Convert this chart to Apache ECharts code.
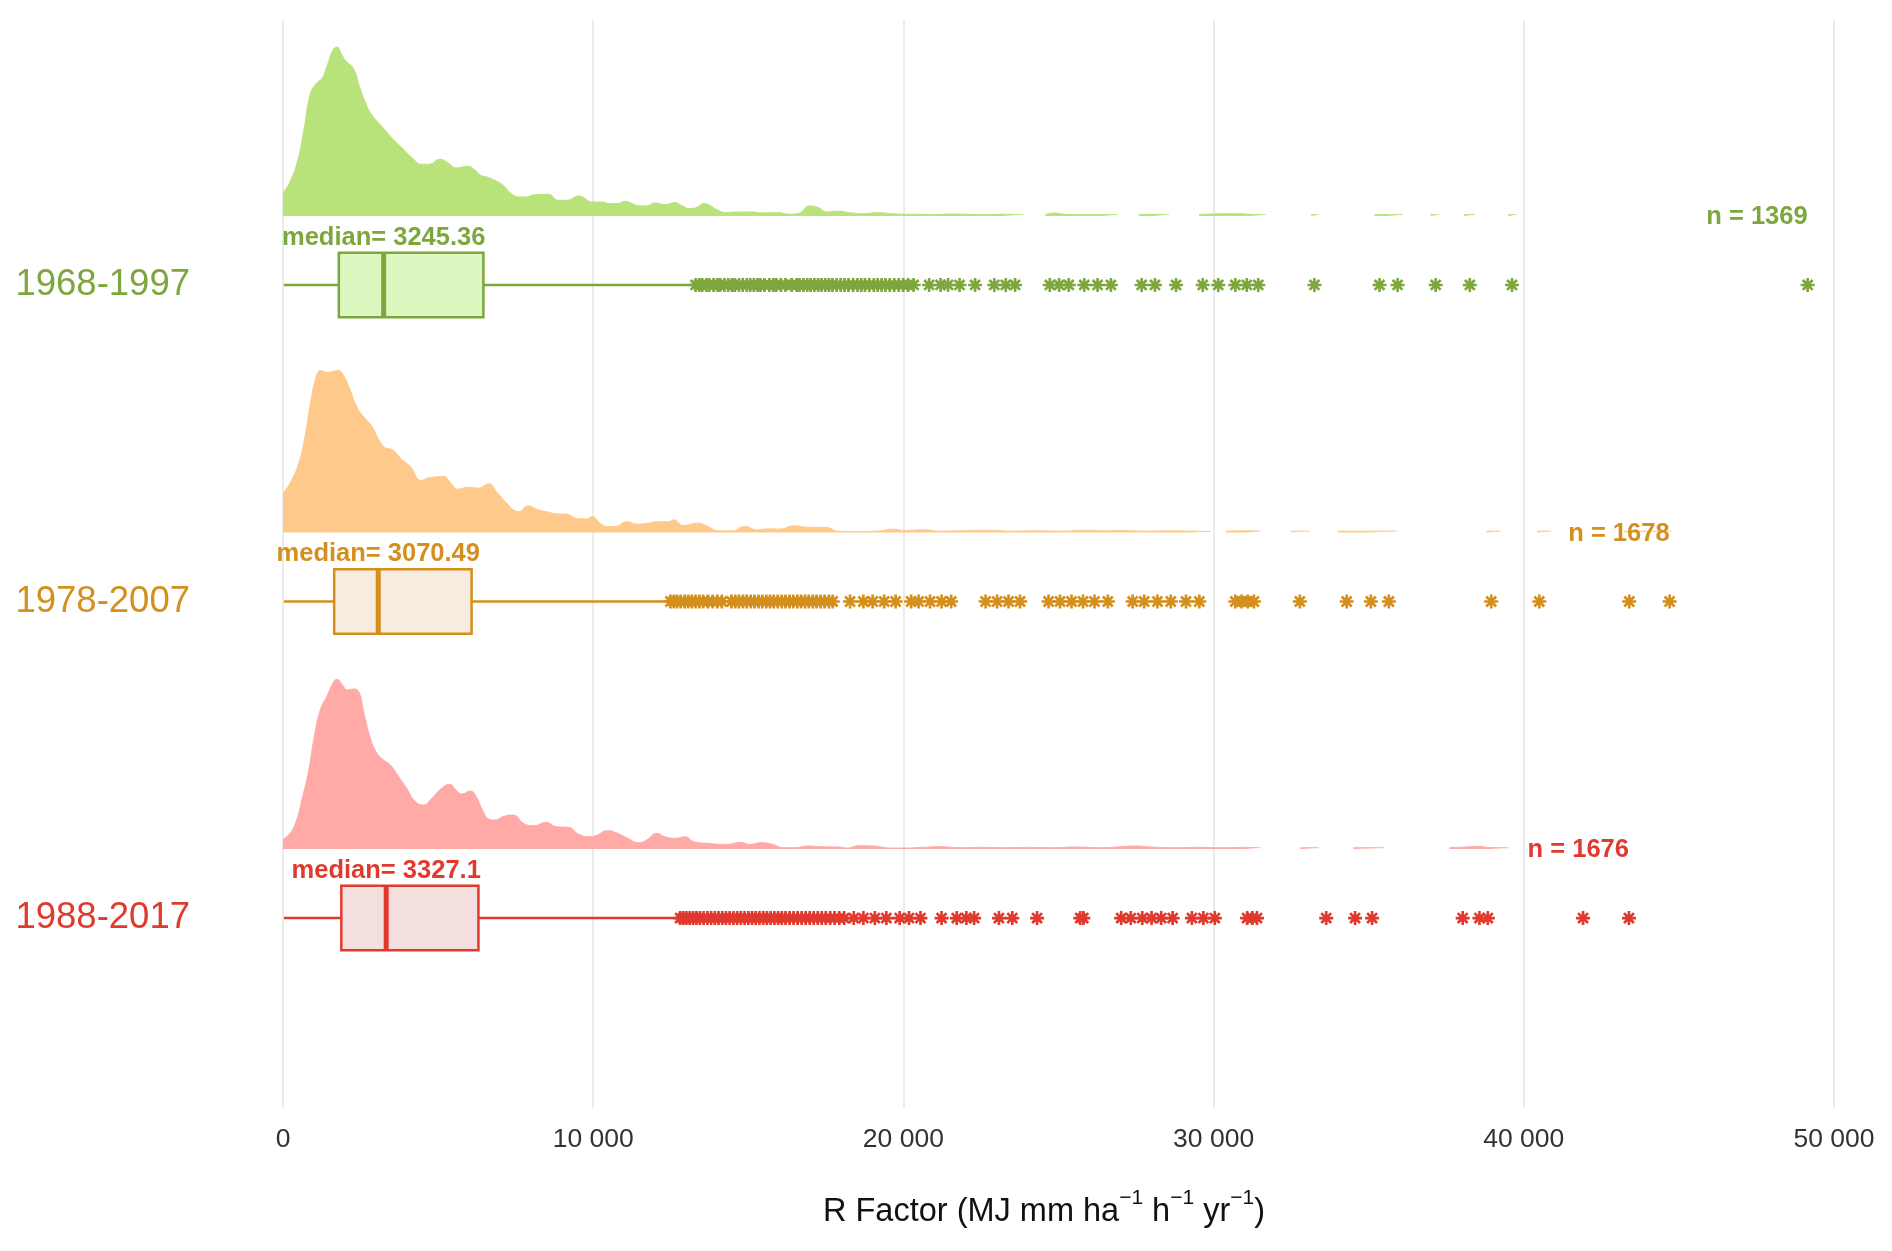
<!DOCTYPE html>
<html>
<head>
<meta charset="utf-8">
<script src="https://cdn.jsdelivr.net/npm/echarts@6/dist/echarts.min.js"></script>
<style>
html,body{margin:0;padding:0;background:#fff;}
#chart{width:1892px;height:1251px;}
</style>
</head>
<body>
<div id="chart"></div>
<script>
// ---------- DATA ----------
const periods = ['1968-1997', '1978-2007', '1988-2017'];   // top to bottom
const rowPos = [2, 1, 0];                                     // y position of each period
const nCounts = [1369, 1678, 1676];
const medianValues = [3245.36, 3070.49, 3327.1];
const medianLabels = ['3245.36', '3070.49', '3327.1'];
const whiskerLow = [30, 30, 30];
const q1Values = [1800, 1650, 1880];
const q3Values = [6460, 6080, 6300];
const whiskerHigh = [13300, 12450, 12750];
const xTicks = [0, 10000, 20000, 30000, 40000, 50000];

// density estimates (relative units) as [R factor, density]; null = gap
const densGreen = [[0,70],[225,102],[490,172],[690,267],[885,367],[1090,399],[1255,412],[1410,447],[1610,497],[1740,507],[1875,487],[2005,467],[2270,442],[2470,387],[2670,337],[2870,302],[3200,267],[3530,232],[3860,202],[4190,172],[4450,155],[4720,155],[5050,170],[5310,160],[5575,144],[5970,149],[6170,139],[6370,122],[6565,117],[6830,107],[7090,92],[7360,67],[7620,57],[7820,57],[8150,64],[8550,65],[8880,47],[9140,47],[9540,60],[9740,52],[9930,42],[10260,42],[10530,37],[10790,37],[11030,44],[11250,37],[11520,30],[11720,30],[11980,39],[12310,34],[12620,40],[12840,32],[13100,22],[13300,24],[13590,37],[13760,32],[13960,20],[14290,10],[14620,12],[15150,12],[15420,9],[15940,10],[16320,5],[16600,7],[16990,30],[17260,25],[17530,12],[17920,14],[18320,9],[18840,7],[19110,10],[19640,7],[20010,5],[20500,5],[21000,4],[21500,6],[22000,5],[22600,4],[23200,5],[23870,4],[23900,null],[24580,4],[24850,9],[25200,5],[25800,4],[26400,4],[26910,4],[26950,null],[27590,4],[28100,5],[28560,4],[28600,null],[29530,4],[30000,6],[30600,7],[31200,5],[31690,4],[31750,null],[33150,4],[33380,4],[33450,null],[35190,4],[35600,4],[36090,4],[36150,null],[37000,4],[37260,4],[37300,null],[38070,4],[38420,4],[38500,null],[39490,4],[39780,4]];
const densOrange = [[0,118],[225,148],[490,203],[690,278],[885,388],[1090,473],[1220,486],[1410,480],[1610,483],[1780,486],[1940,473],[2140,433],[2400,373],[2670,340],[2870,318],[3060,283],[3260,256],[3530,248],[3790,223],[4120,196],[4450,156],[4650,163],[4850,166],[5180,168],[5380,151],[5640,130],[5970,136],[6300,133],[6630,146],[6900,120],[7230,86],[7490,65],[7620,63],[7890,80],[8220,68],[8550,61],[8810,56],[9140,55],[9540,41],[9800,41],[9970,48],[10200,30],[10460,18],[10730,18],[11060,32],[11460,25],[11720,27],[12050,32],[12440,32],[12580,38],[12910,21],[13370,28],[13700,18],[14030,5],[14490,5],[14890,18],[15280,8],[15680,11],[16010,10],[16480,20],[16870,16],[17530,15],[17860,4],[18450,3],[19110,4],[19700,10],[20010,6],[20600,8],[21200,4],[21800,5],[22700,7],[23500,4],[24300,5],[25100,4],[25900,7],[26500,5],[27000,6],[27800,4],[28600,5],[29300,4],[29900,3],[29950,null],[30400,4],[31000,5],[31500,4],[31550,null],[32500,4],[33100,4],[33150,null],[34000,4],[35000,4],[35900,4],[35950,null],[38800,4],[39250,4],[39300,null],[40430,4],[40880,4],[40950,null],[43240,4],[44760,4]];
const densRed = [[0,30],[225,47],[420,82],[620,152],[820,232],[1020,342],[1220,422],[1410,457],[1610,497],[1740,509],[1915,492],[2075,477],[2270,480],[2440,472],[2600,412],[2800,337],[3000,292],[3200,270],[3460,252],[3730,217],[3990,182],[4250,144],[4520,132],[4780,150],[5050,177],[5380,194],[5575,177],[5770,165],[6040,174],[6230,157],[6430,117],[6630,90],[6830,87],[7090,97],[7420,102],[7760,77],[8090,70],[8480,80],[8810,67],[9210,65],[9540,44],[9930,37],[10130,42],[10460,55],[10790,47],[11120,32],[11460,19],[11720,27],[12050,47],[12310,37],[12640,32],[12970,37],[13240,22],[13700,17],[14290,14],[14760,20],[15030,14],[15420,19],[15750,15],[16150,4],[16480,4],[16940,9],[17270,7],[17920,6],[18180,3],[18580,10],[19040,9],[19570,3],[20010,3],[20600,5],[21200,7],[21800,4],[22500,5],[23200,4],[24000,5],[24800,4],[25600,6],[26400,4],[27000,7],[27500,9],[28000,6],[28700,4],[29500,5],[30300,4],[31000,5],[31500,4],[31550,null],[32800,4],[33400,4],[33450,null],[34500,4],[35500,4],[35550,null],[37600,4],[38100,6],[38500,8],[38900,5],[39500,4]];

// outliers (R factor)
const outGreen = [13300,13420,13510,13650,13740,13880,14010,14090,14230,14350,14480,14560,14700,14820,14950,15060,15180,15300,15390,15520,15680,15810,15900,16050,16200,16400,16560,16650,16780,16900,17010,17130,17250,17360,17480,17600,17710,17850,17980,18100,18230,18380,18520,18640,18760,18900,19050,19170,19300,19420,19560,19700,19850,19990,20150,20330,20830,21200,21440,21810,22310,22930,23300,23600,24720,25020,25330,25830,26260,26690,27680,28110,28790,29650,30150,30700,31070,31440,33250,35350,35930,37160,38260,39620,49150];
const outOrange = [12490,12600,12700,12820,12950,13060,13180,13300,13420,13540,13700,13850,14000,14150,14460,14580,14700,14830,14950,15080,15200,15330,15450,15580,15700,15820,15950,16080,16200,16330,16450,16580,16700,16830,16950,17080,17200,17330,17460,17600,17720,18280,18710,19010,19380,19750,20250,20490,20860,21230,21540,22650,23020,23390,23760,24680,25050,25420,25790,26160,26590,27390,27760,28190,28620,29110,29540,30700,30900,31100,31300,32780,34290,35070,35650,38950,40500,43400,44700];
const outRed = [12800,12900,13000,13110,13220,13330,13440,13560,13680,13800,13920,14040,14160,14280,14400,14520,14640,14760,14880,15000,15120,15240,15360,15480,15600,15720,15840,15960,16080,16200,16330,16460,16590,16720,16850,16980,17110,17240,17370,17500,17640,17780,17930,18090,18400,18710,19080,19450,19880,20180,20550,21230,21720,22030,22280,23080,23510,24310,25700,25800,27020,27330,27700,28000,28310,28680,29300,29670,30040,31080,31250,31400,33630,34560,35110,38030,38570,38840,41910,43390];

// ---------- STYLE ----------
const lineColors = ['#7da73c', '#d48f1c', '#e0392e'];
const boxFills = ['#dcf7c0', '#f8ebdf', '#f3dfde'];
const densColors = ['#b8e37b', '#ffc98b', '#ffaaa6'];
const densities = [densGreen, densOrange, densRed];
const outliers = [outGreen, outOrange, outRed];
const DENS_BASE = 0.218;          // density baseline offset above box center
const DENS_SCALE = 1 / 949.5;     // relative density -> row units
const BOX_HALF = 0.102;
const FONT = '"Liberation Sans", Arial, sans-serif';
const ASTERISK = 'path://M-1.9,-10L1.9,-10L1.9,10L-1.9,10Z M-10,-1.9L10,-1.9L10,1.9L-10,1.9Z ' +
  'M5.73,-8.41L8.41,-5.73L-5.73,8.41L-8.41,5.73Z M-8.41,-5.73L-5.73,-8.41L8.41,5.73L5.73,8.41Z';

const chart = echarts.init(document.getElementById('chart'));
const series = [];

densities.forEach((d, i) => {
  const base = rowPos[i] + DENS_BASE;
  series.push({
    type: 'line',
    name: periods[i] + ' density',
    data: d.map(p => p[1] == null ? [p[0], '-'] : [p[0], base + p[1] * DENS_SCALE]),
    showSymbol: false,
    symbol: 'none',
    smooth: 0.5,
    connectNulls: false,
    lineStyle: { width: 1, color: densColors[i] },
    itemStyle: { color: densColors[i] },
    areaStyle: { color: densColors[i], opacity: 1, origin: base },
    z: 1,
    silent: true
  });
});

outliers.forEach((o, i) => {
  series.push({
    type: 'scatter',
    name: periods[i] + ' outliers',
    data: o.map(v => [v, rowPos[i]]),
    symbol: ASTERISK,
    symbolSize: 14,
    itemStyle: { color: lineColors[i], opacity: 1 },
    z: 3,
    silent: true
  });
});

const boxData = periods.map((p, i) => [rowPos[i], whiskerLow[i], q1Values[i], medianValues[i], q3Values[i], whiskerHigh[i], i]);

series.push({
  type: 'custom',
  name: 'boxes',
  data: boxData,
  z: 4,
  clip: false,
  silent: true,
  renderItem(params, api) {
    const k = api.value(0);
    const i = api.value(6);
    const c = lineColors[i];
    const pLow = api.coord([api.value(1), k]);
    const pQ1 = api.coord([api.value(2), k]);
    const pMed = api.coord([api.value(3), k]);
    const pQ3 = api.coord([api.value(4), k]);
    const pHigh = api.coord([api.value(5), k]);
    const top = api.coord([api.value(2), k + BOX_HALF])[1];
    const bot = api.coord([api.value(2), k - BOX_HALF])[1];
    const maxOut = Math.max.apply(null, outliers[i]);
    const pN = api.coord([maxOut, k + DENS_BASE]);
    return {
      type: 'group',
      children: [
        { type: 'line', shape: { x1: pLow[0], y1: pLow[1], x2: pQ1[0], y2: pQ1[1] }, style: { stroke: c, lineWidth: 2.5 } },
        { type: 'line', shape: { x1: pQ3[0], y1: pQ3[1], x2: pHigh[0], y2: pHigh[1] }, style: { stroke: c, lineWidth: 2.5 } },
        { type: 'rect', shape: { x: pQ1[0], y: top, width: pQ3[0] - pQ1[0], height: bot - top }, style: { fill: boxFills[i], stroke: c, lineWidth: 2.5 } },
        { type: 'line', shape: { x1: pMed[0], y1: top, x2: pMed[0], y2: bot }, style: { stroke: c, lineWidth: 5 } },
        { type: 'text', style: { text: 'median= ' + medianLabels[i], x: pMed[0], y: top - 15, align: 'center', verticalAlign: 'middle', fill: c, font: 'bold 25.5px ' + FONT } },
        { type: 'text', style: { text: 'n = ' + nCounts[i], x: pN[0], y: pN[1] + 1, align: 'right', verticalAlign: 'middle', fill: c, font: 'bold 25.5px ' + FONT } }
      ]
    };
  }
});

chart.setOption({
  animation: false,
  backgroundColor: '#ffffff',
  grid: { left: 283, right: 58, top: 20, bottom: 143, containLabel: false },
  xAxis: {
    type: 'value',
    min: xTicks[0],
    max: xTicks[xTicks.length - 1],
    interval: 10000,
    axisLine: { show: false, onZero: false },
    axisTick: { show: false },
    splitLine: { show: true, lineStyle: { color: '#ebebeb', width: 2 } },
    axisLabel: {
      margin: 18,
      fontSize: 26.5,
      fontFamily: FONT,
      color: '#333333',
      formatter: v => String(v).replace(/\B(?=(\d{3})+(?!\d))/g, ' ')
    },
    name: '{t|R Factor (MJ mm ha}{s|−1}{t| h}{s|−1}{t| yr}{s|−1}{t|)}',
    nameLocation: 'middle',
    nameGap: 80,
    nameTextStyle: {
      padding: [0, 29, 0, 0],
      rich: {
        t: { fontSize: 32.5, fontFamily: FONT, color: '#111', lineHeight: 48, verticalAlign: 'middle' },
        s: { fontSize: 21, fontFamily: FONT, color: '#111', verticalAlign: 'top' }
      }
    }
  },
  yAxis: {
    type: 'value',
    min: -0.6,
    max: 2.837,
    axisLine: { show: false, onZero: false },
    axisTick: { show: false },
    splitLine: { show: false },
    axisLabel: {
      customValues: rowPos.slice(),
      margin: 93,
      formatter: v => {
        const i = rowPos.indexOf(Math.round(v));
        return i < 0 ? '' : '{r' + i + '|' + periods[i] + '}';
      },
      rich: {
        r0: { fontSize: 36.5, fontFamily: FONT, color: lineColors[0] },
        r1: { fontSize: 36.5, fontFamily: FONT, color: lineColors[1] },
        r2: { fontSize: 36.5, fontFamily: FONT, color: lineColors[2] }
      }
    }
  },
  series: series
});
</script>
</body>
</html>
